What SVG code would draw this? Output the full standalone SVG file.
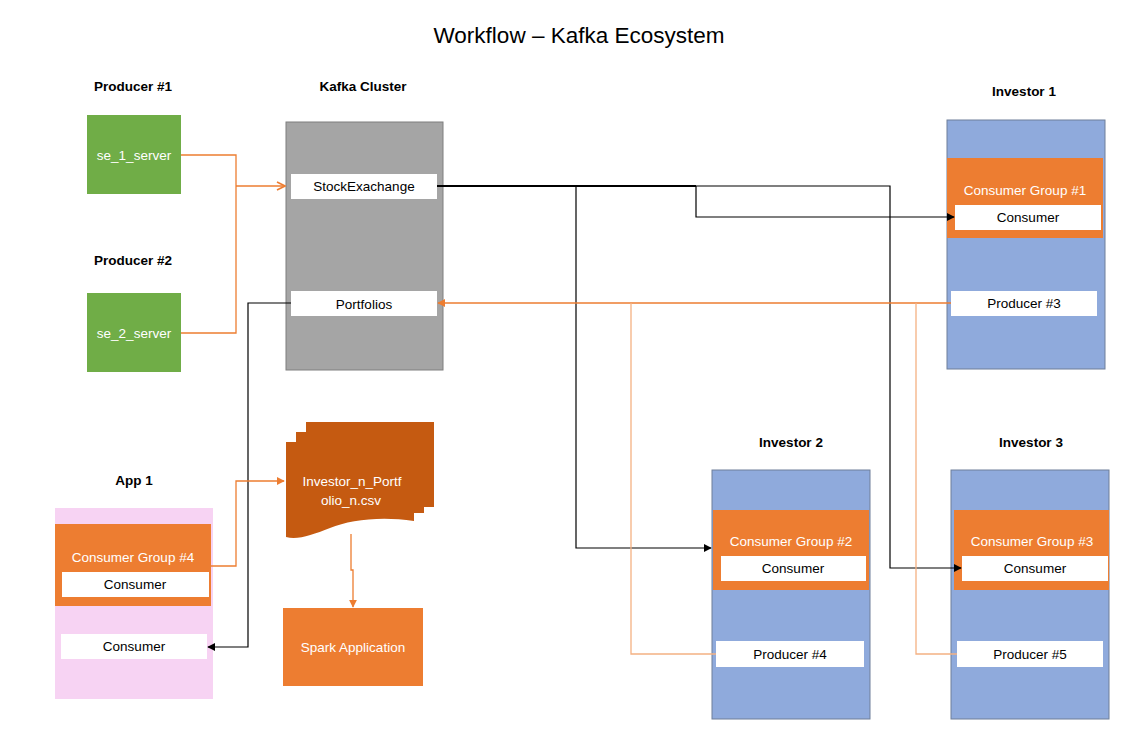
<svg xmlns="http://www.w3.org/2000/svg" width="1134" height="732" viewBox="0 0 1134 732">
<style>
text{font-family:"Liberation Sans",Arial,sans-serif;text-anchor:middle;dominant-baseline:central}
.title{font-size:22.5px;fill:#000}
.hdr{font-size:13.5px;font-weight:bold;fill:#000}
.wt{font-size:13.5px;fill:#fff}
.bt{font-size:13.5px;fill:#000}
.green{fill:#70AD47}
.gray{fill:#A5A5A5;stroke:#7F7F7F;stroke-width:1}
.blue{fill:#8FAADC;stroke:#6F7F99;stroke-width:1}
.pink{fill:#F7D3F3}
.org{fill:#ED7D31}
.wbox{fill:#fff}
.lo{fill:none;stroke:#ED7D31;stroke-width:1.3}
.llo{fill:none;stroke:#F4B183;stroke-width:1.3}
.lk{fill:none;stroke:#000;stroke-width:1.2}
</style>
<defs>
<marker id="ak" viewBox="0 0 10 10" refX="9" refY="5" markerWidth="8" markerHeight="8" markerUnits="userSpaceOnUse" orient="auto"><path d="M0,0 L10,5 L0,10 z" fill="#000"/></marker>
<marker id="ao" viewBox="0 0 10 10" refX="9" refY="5" markerWidth="8" markerHeight="8" markerUnits="userSpaceOnUse" orient="auto"><path d="M0,0 L10,5 L0,10 z" fill="#ED7D31"/></marker>
<marker id="aov" viewBox="0 0 10 10" refX="9" refY="5" markerWidth="10" markerHeight="10" markerUnits="userSpaceOnUse" orient="auto"><path d="M1,1 L9,5 L1,9" fill="none" stroke="#ED7D31" stroke-width="1.6"/></marker>
</defs>
<rect width="1134" height="732" fill="#fff"/>
<text class="title" x="579" y="35">Workflow – Kafka Ecosystem</text>

<g id="producer1">
<text class="hdr" x="133" y="86">Producer #1</text>
<rect class="green" x="87" y="115" width="94" height="79"/>
<text class="wt" x="134" y="155">se_1_server</text>
</g>
<g id="producer2">
<text class="hdr" x="133" y="260">Producer #2</text>
<rect class="green" x="87" y="293" width="94" height="79"/>
<text class="wt" x="134" y="333">se_2_server</text>
</g>
<g id="kafka">
<text class="hdr" x="363" y="86">Kafka Cluster</text>
<rect class="gray" x="286" y="122" width="157" height="248"/>
<rect class="wbox" x="291" y="174" width="146" height="25"/>
<text class="bt" x="364" y="186">StockExachange</text>
<rect class="wbox" x="291" y="291" width="146" height="25"/>
<text class="bt" x="364" y="304">Portfolios</text>
</g>
<g id="investor1">
<text class="hdr" x="1024" y="91">Investor 1</text>
<rect class="blue" x="947" y="120" width="158" height="249"/>
<rect class="org" x="947" y="158" width="156" height="80"/>
<text class="wt" x="1025" y="190">Consumer Group #1</text>
<rect class="wbox" x="955" y="205" width="146" height="25"/>
<text class="bt" x="1028" y="217">Consumer</text>
<rect class="wbox" x="951" y="291" width="146" height="25"/>
<text class="bt" x="1024" y="303">Producer #3</text>
</g>
<g id="investor2">
<text class="hdr" x="791" y="442">Investor 2</text>
<rect class="blue" x="712" y="470" width="158" height="249"/>
<rect class="org" x="713" y="510" width="156" height="80"/>
<text class="wt" x="791" y="541">Consumer Group #2</text>
<rect class="wbox" x="721" y="556" width="145" height="25"/>
<text class="bt" x="793" y="568">Consumer</text>
<rect class="wbox" x="716" y="641" width="148" height="26"/>
<text class="bt" x="790" y="654">Producer #4</text>
</g>
<g id="investor3">
<text class="hdr" x="1031" y="442">Investor 3</text>
<rect class="blue" x="951" y="470" width="158" height="249"/>
<rect class="org" x="954" y="510" width="155" height="80"/>
<text class="wt" x="1032" y="541">Consumer Group #3</text>
<rect class="wbox" x="962" y="556" width="146" height="25"/>
<text class="bt" x="1035" y="568">Consumer</text>
<rect class="wbox" x="957" y="641" width="146" height="26"/>
<text class="bt" x="1030" y="654">Producer #5</text>
</g>
<g id="app1">
<text class="hdr" x="134" y="480">App 1</text>
<rect class="pink" x="55" y="508" width="158" height="191"/>
<rect class="org" x="55" y="524" width="156" height="82"/>
<text class="wt" x="133" y="557">Consumer Group #4</text>
<rect class="wbox" x="62" y="572" width="147" height="25"/>
<text class="bt" x="135" y="584">Consumer</text>
<rect class="wbox" x="61" y="634" width="146" height="25"/>
<text class="bt" x="134" y="646">Consumer</text>
</g>
<g id="csv">
<path fill="#C55A11" d="M286,442 L296,442 L296,432 L306,432 L306,422 L434,422 L434,507 L424,507 L424,513 L414,513 L414,521 C380,516 350,520 330,528 C312,535 298,540 286,537 Z"/>
<text class="wt" x="352" y="481">Investor_n_Portf</text>
<text class="wt" x="351" y="500">olio_n.csv</text>
</g>
<g id="spark">
<rect class="org" x="283" y="608" width="140" height="78"/>
<text class="wt" x="353" y="647">Spark Application</text>
</g>

<g id="connectors">
<polyline class="lo" points="181,155 236,155 236,333 181,333"/>
<line class="lo" x1="236" y1="186" x2="285" y2="186" marker-end="url(#aov)"/>
<line x1="437" y1="186" x2="696" y2="186" stroke="#000" stroke-width="2.2"/>
<polyline class="lk" points="696,186 890,186 890,568 961,568" marker-end="url(#ak)"/>
<polyline class="lk" points="696,186 696,217 954,217" marker-end="url(#ak)"/>
<polyline class="lk" points="576,186 576,548 711,548" marker-end="url(#ak)"/>
<line class="lo" x1="951" y1="303" x2="438" y2="303" marker-end="url(#ao)"/>
<polyline class="llo" points="631,303 631,654 716,654"/>
<polyline class="llo" points="916,303 916,654 957,654"/>
<polyline class="lk" points="291,303 248,303 248,647 208,647" marker-end="url(#ak)"/>
<polyline class="lo" points="211,566 236,566 236,481 284,481" marker-end="url(#ao)"/>
<polyline class="lo" points="351,534 351,570 353,570 353,607" marker-end="url(#ao)"/>
</g>
</svg>
